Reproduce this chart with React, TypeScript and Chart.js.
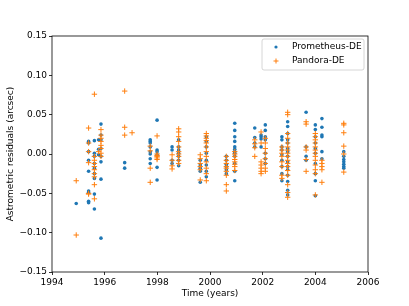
import React, { useEffect, useRef } from "react";
import { Chart, registerables } from "chart.js";

Chart.register(...registerables);

// ---- data ----
const xTickValues = [1994, 1996, 1998, 2000, 2002, 2004, 2006];
const yTickValues = [-0.15, -0.1, -0.05, 0, 0.05, 0.1, 0.15];

const prometheusEpochs = [
  1994.92, 1995.39, 1995.61, 1995.77, 1995.86, 1996.76, 1997.73, 1997.99,
  1998.56, 1998.81, 1999.63, 1999.86, 2000.62, 2000.94, 2001.7, 2001.94,
  2002.1, 2002.73, 2002.95, 2003.65, 2004.0, 2004.25, 2005.08,
];
const prometheusResiduals = [
  [-0.063],
  [0.016, 0.014, 0.003, -0.008, -0.022, -0.047, -0.049, -0.06, -0.062],
  [0.017, 0.001, -0.003, -0.012, -0.018, -0.025, -0.031, -0.051, -0.07],
  [0.018, 0.006, -0.001],
  [0.038, 0.024, 0.018, 0.007, -0.003, -0.01, -0.032, -0.107],
  [-0.011, -0.018],
  [0.018, 0.016, 0.014, 0.009, 0.003, 0.0, -0.006, -0.012],
  [0.043, 0.005, 0.003, -0.001, -0.017, -0.033],
  [0.009, 0.005, -0.008, -0.012],
  [0.018, 0.009, 0.005, 0.001, -0.003, -0.008, -0.015],
  [-0.008, -0.014, -0.018, -0.022, -0.036],
  [0.022, 0.016, 0.009, 0.001, -0.008, -0.014, -0.022, -0.029],
  [-0.003, -0.008, -0.013, -0.016, -0.02, -0.025],
  [0.039, 0.03, 0.022, 0.016, 0.009, 0.006, 0.003, 0.001, -0.003, -0.012, -0.022, -0.034],
  [0.033, 0.021, 0.014, 0.009],
  [0.024, 0.022, 0.019, 0.009],
  [0.037, 0.03, 0.022, 0.018, 0.001, -0.006, -0.012],
  [0.022, 0.018, 0.009, 0.005, -0.001, -0.008, -0.016, -0.025, -0.034],
  [0.041, 0.035, 0.026, 0.018, 0.014, 0.007, 0.003, -0.003, -0.01, -0.016, -0.02, -0.027, -0.035, -0.046, -0.052],
  [0.053, 0.009, -0.003, -0.008],
  [0.037, 0.031, 0.022, 0.014, 0.007, 0.001, -0.012, -0.025, -0.034, -0.053],
  [0.045, 0.034, 0.024, 0.022, 0.003, -0.006],
  [0.003, -0.003, -0.007, -0.01, -0.013, -0.016, -0.018],
];

const pandoraEpochs = [
  1994.92, 1995.39, 1995.61, 1995.77, 1995.86, 1996.76, 1997.04, 1997.73,
  1997.99, 1998.56, 1998.81, 1999.63, 1999.86, 2000.62, 2000.94, 2001.7,
  2001.94, 2002.1, 2002.73, 2002.95, 2003.65, 2004.0, 2004.25, 2005.08,
];
const pandoraResiduals = [
  [-0.034, -0.103],
  [0.033, 0.014, 0.003, -0.011, -0.05, -0.051],
  [0.076, -0.003, -0.008, -0.012, -0.016, -0.02, -0.025, -0.029, -0.039, -0.057],
  [0.003],
  [0.031, 0.024, 0.02, 0.016, 0.011, 0.007, 0.001, -0.003],
  [0.08, 0.034, 0.024],
  [0.027],
  [0.01, 0.004, -0.018, -0.036],
  [0.023, 0.0, -0.002, -0.003, -0.005, -0.007],
  [-0.001, -0.008, -0.015, -0.019],
  [0.032, 0.028, 0.022, 0.016, 0.009, 0.003, 0.0, -0.003, -0.008, -0.012],
  [-0.001, -0.006, -0.012, -0.016, -0.02, -0.033],
  [0.026, 0.023, 0.02, 0.017, 0.014, 0.009, 0.003, -0.003, -0.01, -0.018, -0.025, -0.034],
  [-0.003, -0.008, -0.012, -0.016, -0.018, -0.022, -0.027, -0.039, -0.047],
  [0.003, 0.0, -0.003, -0.007, -0.01, -0.013, -0.016, -0.021],
  [0.018, 0.013, 0.008, -0.003],
  [0.028, 0.014, -0.01, -0.014, -0.018, -0.022, -0.025],
  [0.02, 0.014, 0.007, 0.001, -0.006, -0.012, -0.018, -0.022],
  [0.009, 0.005, 0.001, -0.003, -0.01, -0.016, -0.027, -0.031],
  [0.053, 0.05, 0.026, 0.02, 0.014, 0.009, 0.005, 0.001, -0.003, -0.008, -0.012, -0.016, -0.021, -0.027, -0.039, -0.049, -0.055],
  [0.041, 0.038, 0.009, 0.005, -0.007, -0.022],
  [0.026, 0.022, 0.018, 0.014, 0.009, 0.005, 0.001, -0.003, -0.008, -0.014, -0.02, -0.025, -0.052],
  [-0.008, -0.012, -0.016, -0.02, -0.036],
  [0.039, 0.037, 0.027, 0.01, 0.0, -0.023],
];

const seriesLabels = ["Prometheus-DE", "Pandora-DE"];
const xTitle = "Time (years)";
const yTitle = "Astrometric residuals (arcsec)";

const BLUE = "#1f77b4";
const ORANGE = "#ff7f0e";
const FONT = "'DejaVu Sans', sans-serif";

function toPoints(epochs: number[], residuals: number[][]) {
  const pts: { x: number; y: number }[] = [];
  epochs.forEach((e, i) => residuals[i].forEach((v) => pts.push({ x: e, y: v })));
  return pts;
}

const framePlugin = {
  id: "frame",
  afterDatasetsDraw(chart: any) {
    const { ctx, chartArea: a } = chart;
    ctx.save();
    ctx.strokeStyle = "#000";
    ctx.lineWidth = 0.8;
    ctx.strokeRect(a.left, a.top, a.right - a.left, a.bottom - a.top);
    ctx.restore();
  },
};

const legendPlugin = {
  id: "mplLegend",
  afterDraw(chart: any) {
    const { ctx, chartArea: a } = chart;
    const bx = a.right - 106;
    const by = a.top + 3;
    const bw = 102;
    const bh = 31;
    ctx.save();
    ctx.fillStyle = "rgba(255,255,255,0.8)";
    ctx.strokeStyle = "#cccccc";
    ctx.lineWidth = 0.8;
    ctx.beginPath();
    (ctx as any).roundRect ? (ctx as any).roundRect(bx, by, bw, bh, 2) : ctx.rect(bx, by, bw, bh);
    ctx.fill();
    ctx.stroke();
    chart.data.datasets.forEach((ds: any, i: number) => {
      const cy = by + 8 + i * 14;
      const mx = bx + 14;
      ctx.fillStyle = ds.pointBackgroundColor;
      ctx.strokeStyle = ds.pointBorderColor;
      if (ds.pointStyle === "circle") {
        ctx.beginPath();
        ctx.arc(mx, cy, 1.6, 0, Math.PI * 2);
        ctx.fill();
      } else {
        ctx.lineWidth = 1;
        ctx.beginPath();
        ctx.moveTo(mx - 2.5, cy);
        ctx.lineTo(mx + 2.5, cy);
        ctx.moveTo(mx, cy - 2.5);
        ctx.lineTo(mx, cy + 2.5);
        ctx.stroke();
      }
      ctx.fillStyle = "#000";
      ctx.font = `9px ${FONT}`;
      ctx.textBaseline = "middle";
      ctx.textAlign = "left";
      ctx.fillText(ds.label, bx + 30, cy);
    });
    ctx.restore();
  },
};

export default function App() {
  const ref = useRef<HTMLCanvasElement | null>(null);

  useEffect(() => {
    document.body.style.margin = "0";
    if (!ref.current) return;
    const chart = new Chart(ref.current, {
      type: "scatter",
      data: {
        datasets: [
          {
            label: seriesLabels[0],
            data: toPoints(prometheusEpochs, prometheusResiduals),
            pointStyle: "circle",
            pointRadius: 1.8,
            pointBorderWidth: 0,
            pointBackgroundColor: BLUE,
            pointBorderColor: BLUE,
            order: 2,
          },
          {
            label: seriesLabels[1],
            data: toPoints(pandoraEpochs, pandoraResiduals),
            pointStyle: "cross",
            pointRadius: 2.7,
            pointBorderWidth: 1,
            pointBackgroundColor: ORANGE,
            pointBorderColor: ORANGE,
            order: 1,
          },
        ] as any,
      },
      options: {
        animation: false,
        responsive: false,
        devicePixelRatio: 1,
        events: [],
        layout: { padding: { top: 36, right: 41, left: 0, bottom: 0 } },
        plugins: { legend: { display: false }, tooltip: { enabled: false } },
        scales: {
          x: {
            type: "linear",
            min: xTickValues[0],
            max: xTickValues[xTickValues.length - 1],
            afterBuildTicks: (s: any) => {
              s.ticks = xTickValues.map((v) => ({ value: v }));
            },
            afterFit: (s: any) => {
              s.height = 34;
            },
            border: { display: false },
            grid: {
              display: true,
              drawOnChartArea: false,
              drawTicks: true,
              tickLength: 3,
              tickColor: "#000",
              lineWidth: 0.8,
            },
            ticks: {
              color: "#000",
              font: { family: FONT, size: 9 },
              padding: 2,
              maxRotation: 0,
              autoSkip: false,
              callback: (v: any) => String(v),
            },
            title: {
              display: true,
              text: xTitle,
              color: "#000",
              font: { family: FONT, size: 9 },
              padding: { top: 0, bottom: 6.5 },
            },
          },
          y: {
            type: "linear",
            min: yTickValues[0],
            max: yTickValues[yTickValues.length - 1],
            afterBuildTicks: (s: any) => {
              s.ticks = yTickValues.map((v) => ({ value: v }));
            },
            afterFit: (s: any) => {
              s.width = 52;
            },
            border: { display: false },
            grid: {
              display: true,
              drawOnChartArea: false,
              drawTicks: true,
              tickLength: 3,
              tickColor: "#000",
              lineWidth: 0.8,
            },
            ticks: {
              color: "#000",
              font: { family: FONT, size: 9 },
              padding: 2,
              autoSkip: false,
              callback: (v: any) => Number(v).toFixed(2).replace("-", "\u2212"),
            },
            title: {
              display: true,
              text: yTitle,
              color: "#000",
              font: { family: FONT, size: 9 },
              padding: { top: 5.5, bottom: 0 },
            },
          },
        },
      } as any,
      plugins: [framePlugin, legendPlugin],
    });
    return () => chart.destroy();
  }, []);

  return (
    <div style={{ width: 409, height: 306, position: "relative" }}>
      <canvas ref={ref} width={409} height={306} style={{ display: "block" }} />
    </div>
  );
}
